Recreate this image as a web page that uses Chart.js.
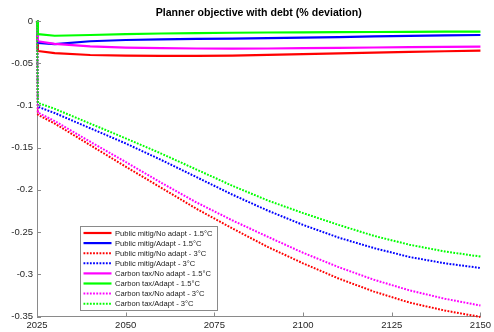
<!DOCTYPE html>
<html>
<head>
<meta charset="utf-8">
<script src="https://cdn.jsdelivr.net/npm/chart.js@4.4.1/dist/chart.umd.min.js"></script>
<style>
  html, body { margin: 0; padding: 0; background: #fff; }
  #wrap { width: 494px; height: 332px; }
</style>
</head>
<body>
<div id="wrap"><canvas id="planner"></canvas></div>
<script>
// years on the x axis (first step is one quarter)
const years = [2025, 2025.25, 2030, 2040, 2050, 2060, 2070, 2080, 2090, 2100, 2110, 2120, 2130, 2140, 2150];

// planner objective, % deviation
const pubNoAdapt15 = [0, -0.0355, -0.038, -0.0403, -0.041, -0.0414, -0.0413, -0.041, -0.0402, -0.0393, -0.0384, -0.0374, -0.0365, -0.0358, -0.0351];
const pubAdapt15 = [0, -0.026, -0.0275, -0.024, -0.0225, -0.0217, -0.0212, -0.0208, -0.0203, -0.0197, -0.019, -0.0183, -0.0177, -0.0171, -0.0166];
const pubNoAdapt3 = [0, -0.111, -0.1215, -0.147, -0.1725, -0.1975, -0.2225, -0.2455, -0.2675, -0.287, -0.305, -0.3205, -0.3335, -0.343, -0.3505];
const pubAdapt3 = [0, -0.1015, -0.109, -0.127, -0.145, -0.1645, -0.185, -0.2055, -0.2245, -0.2415, -0.2565, -0.269, -0.2795, -0.287, -0.2925];
const taxNoAdapt15 = [0, -0.024, -0.027, -0.030, -0.0315, -0.0322, -0.0326, -0.0328, -0.0326, -0.0322, -0.0318, -0.0314, -0.031, -0.0307, -0.0304];
const taxAdapt15 = [0, -0.0155, -0.0175, -0.0166, -0.0155, -0.0148, -0.0143, -0.0139, -0.0136, -0.0134, -0.0132, -0.013, -0.0128, -0.0127, -0.0126];
const taxNoAdapt3 = [0, -0.1085, -0.1185, -0.143, -0.167, -0.1915, -0.215, -0.236, -0.2555, -0.2745, -0.2915, -0.3065, -0.319, -0.329, -0.337];
const taxAdapt3 = [0, -0.097, -0.104, -0.1215, -0.139, -0.157, -0.176, -0.195, -0.2125, -0.2275, -0.2415, -0.2545, -0.265, -0.273, -0.279];

const xTicks = [2025, 2050, 2075, 2100, 2125, 2150];
const yTicks = [0, -0.05, -0.1, -0.15, -0.2, -0.25, -0.3, -0.35];

const FONT = "'Liberation Sans', Arial, Helvetica, sans-serif";
const DOTS = [1.8, 1.4];

const series = [
  { label: 'Public mitig/No adapt - 1.5°C', values: pubNoAdapt15, color: '#ff0000', dotted: false },
  { label: 'Public mitig/Adapt - 1.5°C', values: pubAdapt15, color: '#0000ff', dotted: false },
  { label: 'Public mitig/No adapt - 3°C', values: pubNoAdapt3, color: '#ff0000', dotted: true },
  { label: 'Public mitig/Adapt - 3°C', values: pubAdapt3, color: '#0000ff', dotted: true },
  { label: 'Carbon tax/No adapt - 1.5°C', values: taxNoAdapt15, color: '#ff00ff', dotted: false },
  { label: 'Carbon tax/Adapt - 1.5°C', values: taxAdapt15, color: '#00ff00', dotted: false },
  { label: 'Carbon tax/No adapt - 3°C', values: taxNoAdapt3, color: '#ff00ff', dotted: true },
  { label: 'Carbon tax/Adapt - 3°C', values: taxAdapt3, color: '#00ff00', dotted: true }
];

const datasets = series.map((s, i) => ({
  label: s.label,
  data: years.map((yr, k) => ({ x: yr, y: s.values[k] })),
  borderColor: s.color,
  borderWidth: s.dotted ? 2 : 2.2,
  borderDash: s.dotted ? DOTS : [],
  borderCapStyle: 'butt',
  borderJoinStyle: 'round',
  pointRadius: 0,
  tension: 0,
  clip: 4,
  order: series.length - i // later series end up on top
}));

// title centred over the plot area
const titlePlugin = {
  id: 'plotTitle',
  afterDraw(chart) {
    const { ctx, chartArea } = chart;
    ctx.save();
    ctx.font = `bold 10.6px ${FONT}`;
    ctx.fillStyle = '#000';
    ctx.textAlign = 'center';
    ctx.textBaseline = 'middle';
    ctx.fillText('Planner objective with debt (% deviation)', (chartArea.left + chartArea.right) / 2, 13);
    ctx.restore();
  }
};

// short tick marks pointing into the plot
const innerTicks = {
  id: 'innerTicks',
  afterDraw(chart) {
    const { ctx, chartArea, scales } = chart;
    ctx.save();
    ctx.strokeStyle = '#8a8a8a';
    ctx.lineWidth = 1;
    ctx.beginPath();
    xTicks.forEach(v => {
      const px = Math.round(scales.x.getPixelForValue(v)) + 0.5;
      ctx.moveTo(px, chartArea.bottom);
      ctx.lineTo(px, chartArea.bottom - 4);
    });
    yTicks.forEach(v => {
      const py = Math.round(scales.y.getPixelForValue(v)) + 0.5;
      ctx.moveTo(chartArea.left, py);
      ctx.lineTo(chartArea.left + 4, py);
    });
    ctx.stroke();
    ctx.restore();
  }
};

// boxed legend in the lower left of the plot
const boxLegend = {
  id: 'boxLegend',
  afterDraw(chart) {
    const { ctx } = chart;
    const bx = 80.5, by = 226.5, bw = 137, bh = 84;
    ctx.save();
    ctx.fillStyle = '#fff';
    ctx.fillRect(bx, by, bw, bh);
    ctx.strokeStyle = '#8a8a8a';
    ctx.lineWidth = 1;
    ctx.strokeRect(bx, by, bw, bh);
    ctx.font = `7.6px ${FONT}`;
    ctx.textBaseline = 'middle';
    ctx.textAlign = 'left';
    chart.data.datasets.forEach((ds, i) => {
      const y = 233 + i * 10.1;
      ctx.strokeStyle = ds.borderColor;
      ctx.lineWidth = ds.borderWidth;
      ctx.lineCap = 'butt';
      ctx.setLineDash(ds.borderDash);
      ctx.beginPath();
      ctx.moveTo(83.5, y);
      ctx.lineTo(111.5, y);
      ctx.stroke();
      ctx.setLineDash([]);
      ctx.fillStyle = '#1a1a1a';
      ctx.fillText(ds.label, 115, y + 0.5);
    });
    ctx.restore();
  }
};

new Chart(document.getElementById('planner'), {
  type: 'line',
  data: { datasets },
  options: {
    responsive: true,
    maintainAspectRatio: false,
    animation: false,
    layout: { padding: { top: 21, right: 9.5, left: 0, bottom: 0 } },
    plugins: {
      legend: { display: false },
      title: { display: false },
      tooltip: { enabled: false }
    },
    scales: {
      x: {
        type: 'linear',
        min: 2025,
        max: 2150,
        afterBuildTicks: s => { s.ticks = xTicks.map(v => ({ value: v })); },
        afterFit: s => { s.height = 15.5; },
        ticks: {
          color: '#262626',
          font: { family: FONT, size: 9.5 },
          padding: 3,
          maxRotation: 0,
          callback: v => String(v)
        },
        grid: { display: false, drawTicks: false },
        border: { display: true, color: '#8a8a8a', width: 1 }
      },
      y: {
        type: 'linear',
        min: -0.35,
        max: 0,
        afterBuildTicks: s => { s.ticks = yTicks.map(v => ({ value: v })); },
        afterFit: s => { s.width = 37; },
        ticks: {
          color: '#262626',
          font: { family: FONT, size: 9.5 },
          padding: 4,
          callback: v => String(+v.toFixed(2))
        },
        grid: { display: false, drawTicks: false },
        border: { display: true, color: '#8a8a8a', width: 1 }
      }
    }
  },
  plugins: [titlePlugin, innerTicks, boxLegend]
});
</script>
</body>
</html>
